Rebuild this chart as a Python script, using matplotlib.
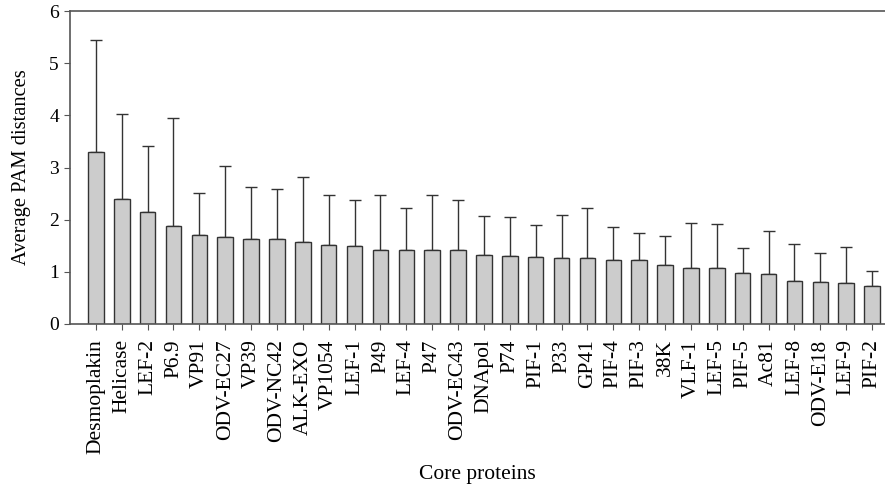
import numpy as np
import matplotlib
matplotlib.use("Agg")
import matplotlib.pyplot as plt

plt.rcParams['font.family'] = ['Liberation Serif', 'DejaVu Serif']

# core proteins, sorted by mean distance
proteins = ["Desmoplakin", "Helicase", "LEF-2", "P6.9", "VP91", "ODV-EC27",
            "VP39", "ODV-NC42", "ALK-EXO", "VP1054", "LEF-1", "P49", "LEF-4",
            "P47", "ODV-EC43", "DNApol", "P74", "PIF-1", "P33", "GP41",
            "PIF-4", "PIF-3", "38K", "VLF-1", "LEF-5", "PIF-5", "Ac81",
            "LEF-8", "ODV-E18", "LEF-9", "PIF-2"]
mean_pam = [3.30, 2.39, 2.15, 1.87, 1.70, 1.66, 1.62, 1.62, 1.58, 1.52, 1.50,
            1.42, 1.42, 1.41, 1.41, 1.33, 1.31, 1.28, 1.27, 1.26, 1.23, 1.23,
            1.14, 1.08, 1.08, 0.98, 0.96, 0.83, 0.81, 0.78, 0.73]
# top of error bar
upper = [5.45, 4.02, 3.42, 3.95, 2.51, 3.02, 2.62, 2.59, 2.81, 2.48, 2.37,
         2.48, 2.22, 2.47, 2.38, 2.07, 2.05, 1.89, 2.08, 2.22, 1.86, 1.75,
         1.68, 1.94, 1.92, 1.45, 1.79, 1.54, 1.36, 1.47, 1.01]

mean_pam = np.array(mean_pam)
err = np.array(upper) - mean_pam
x = np.arange(len(proteins))

fig = plt.figure(figsize=(8.85, 4.88), dpi=100)
ax = fig.add_axes([70/885, (488-324)/488, 815/885, 313/488])

ax.bar(x, mean_pam, width=0.6, color="#cccccc", edgecolor="#333333", linewidth=1.0, zorder=2)
ax.errorbar(x, mean_pam, yerr=[np.zeros_like(err), err], fmt="none",
            ecolor="#333333", elinewidth=1.0, capsize=4, capthick=1.0, zorder=1)

ax.set_xlim(-1, 30.5)
ax.set_ylim(0, 6)
ax.set_yticks(range(0, 7))
ax.set_xticks(x)
ax.set_xticklabels(proteins, rotation=90, fontsize=15.5)
ax.tick_params(axis="y", labelsize=14, length=4, color="#555555", pad=4)
ax.tick_params(axis="x", length=4, color="#555555", pad=7)

for s in ["left", "bottom", "top"]:
    ax.spines[s].set_color("#555555")
    ax.spines[s].set_linewidth(1.2)
ax.spines["right"].set_visible(False)

ax.set_ylabel("Average PAM distances", fontsize=14.8, labelpad=13)
ax.set_xlabel("Core proteins", fontsize=15.5, labelpad=8)

fig.savefig("out.png", dpi=100)
